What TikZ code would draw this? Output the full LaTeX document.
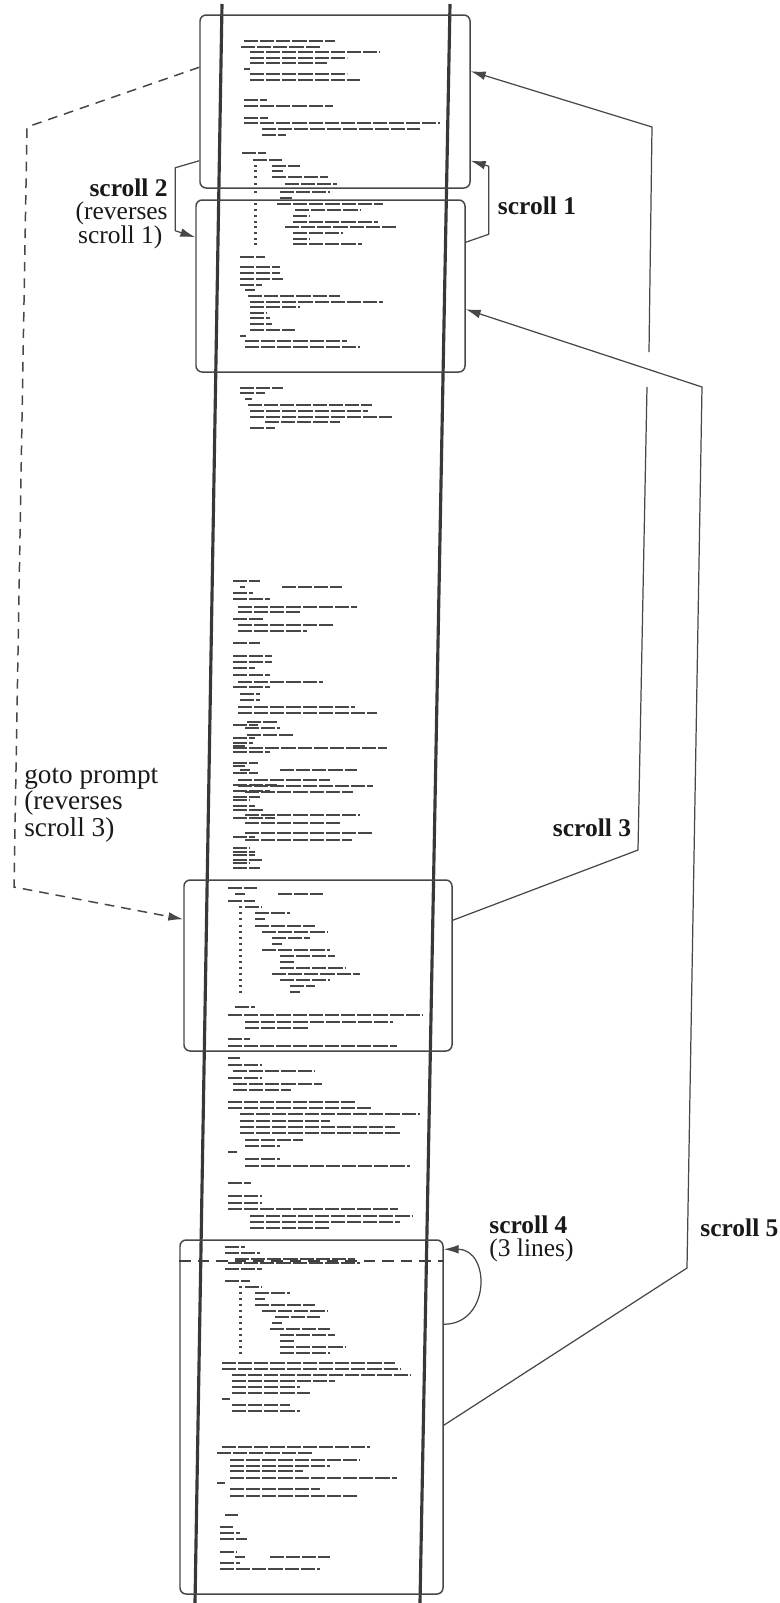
\documentclass[tikz,border=0pt]{standalone}
\usepackage{fontspec}
\setmainfont{Liberation Serif}
\usetikzlibrary{arrows.meta, calc, fit}

\newcommand{\textrows}[1]{%
  % #1 = list of x_start/x_end/y (one printed row each)
  \foreach \xa/\xb/\yy in {#1} {
    \draw[codebar] (\xa,\yy) -- (\xb,\yy);
  }
}

\tikzset{
  pageline/.style={black!78, line width=1.8pt},
  winbox/.style={draw=black!72, line width=0.85pt, rounded corners=3.5pt, inner sep=0pt},
  codebar/.style={black!72, line width=1.55pt, dash pattern=on 8pt off 1.2pt},
  scrollline/.style={black!72, line width=0.7pt, -{Latex[length=8.5pt,width=5pt]}},
  gotoline/.style={scrollline, line width=0.85pt, dash pattern=on 5.5pt off 4pt},
  cutline/.style={black!75, line width=1.1pt, dash pattern=on 6.5pt off 4pt},
  lbl/.style={font=\fontsize{14.5}{13}\selectfont, inner sep=0pt, text=black!90},
}

\begin{document}
\begin{tikzpicture}[x=0.02cm, y=-0.02cm]
  \useasboundingbox (0,0) rectangle (780,1603);

  % printed rows of the listing
  \textrows{244/335/41, 241/320/47, 250/380/52, 250/347/58, 250/327/63, 244/250/69,
    250/347/74, 250/360/80, 244/267/100, 244/333/106, 244/268/118, 244/440/123,
    262/420/129, 262/286/135, 242/266/153, 253/282/160, 254/257/166, 272/300/166,
    254/257/171, 272/283/171, 254/257/177, 272/328/177, 254/257/184, 285/337/184,
    254/257/192, 280/330/192}
  \textrows{280/292/198, 254/257/204, 277/383/204, 254/257/210, 295/360/210,
    254/257/216, 293/310/216, 254/257/222, 293/378/222, 254/257/227, 285/397/227,
    254/257/233, 293/343/233, 254/257/239, 293/310/239, 254/257/244, 293/362/244,
    240/265/257, 240/280/267, 240/280/273, 240/283/279, 240/262/285, 245/255/290,
    248/340/296, 250/383/302, 250/300/307, 250/267/313, 250/270/318, 250/272/324,
    250/295/330, 240/246/336, 245/347/341, 245/360/347}
  \textrows{240/283/388, 240/265/393, 245/252/399, 248/372/405, 250/368/411,
    250/392/417, 265/340/422, 250/275/428}
  \textrows{233/260/581, 240/245/587, 282/342/587, 233/253/593, 233/270/599,
    238/357/607, 238/300/612, 233/265/619, 238/333/625, 238/307/631, 233/260/643,
    233/272/656, 233/272/662, 233/255/668, 233/270/675, 238/323/682, 233/270/687,
    240/260/694, 240/260/700, 238/355/707, 238/377/713, 247/277/722, 233/258/725,
    245/280/728, 247/293/735, 233/255/738, 233/253/743, 233/245/746, 233/387/748,
    233/270/752, 233/258/763, 233/245/766, 240/250/770, 280/357/770, 233/258/773,
    238/330/780, 233/277/785, 238/373/786, 233/270/791, 245/353/792, 233/260/797,
    233/250/800, 233/255/806, 233/265/810, 245/360/815, 233/275/818, 245/340/823,
    245/372/833, 233/255/837, 245/352/840, 233/250/848, 233/255/852, 233/255/855,
    233/262/860, 233/250/863, 233/260/868}
  \textrows{228/257/888, 235/245/894, 278/323/894, 228/255/901, 239/242/907,
    245/262/907, 239/242/913, 255/290/913, 239/242/919, 255/265/919, 239/242/926,
    255/315/926, 239/242/932, 262/327/932, 239/242/938, 272/310/938, 239/242/944,
    272/282/944, 239/242/950, 262/330/950, 239/242/956, 280/335/956, 239/242/962,
    280/295/962, 239/242/968, 280/345/968, 239/242/974, 272/360/974, 239/242/980,
    280/330/980, 239/242/986, 290/315/986, 239/242/992, 290/300/992, 235/255/1007,
    228/423/1015, 245/393/1022, 245/308/1028, 228/250/1039, 228/397/1046}
  \textrows{228/240/1058, 228/262/1065, 233/314/1071, 228/262/1078, 233/322/1084,
    233/291/1090, 228/355/1102, 228/372/1108, 240/420/1114, 240/330/1121,
    240/395/1127, 240/400/1133, 245/303/1140, 245/280/1146, 228/237/1152,
    245/280/1159, 245/410/1166, 228/251/1183, 228/262/1196, 228/262/1203,
    228/398/1209, 250/412/1216, 250/400/1222, 250/330/1228}
  \textrows{225/245/1247, 225/260/1253, 235/355/1259, 228/360/1263, 225/262/1269,
    225/250/1281, 239/242/1287, 245/262/1287, 239/242/1293, 255/290/1293,
    239/242/1299, 255/265/1299, 239/242/1305, 255/315/1305, 239/242/1311,
    262/327/1311, 239/242/1317, 275/320/1317, 239/242/1323, 272/282/1323,
    239/242/1329, 270/330/1329, 239/242/1335, 280/335/1335, 239/242/1341,
    280/295/1341, 239/242/1347, 280/345/1347, 239/242/1353, 280/330/1353,
    222/395/1363, 222/400/1369, 232/410/1375, 232/335/1381, 232/300/1387,
    232/310/1393, 222/230/1399, 232/290/1405, 232/300/1411, 222/370/1447,
    217/313/1453, 230/360/1460, 230/330/1466, 230/303/1471, 230/397/1478,
    217/225/1483, 230/320/1489, 230/357/1496, 225/238/1515, 220/233/1527,
    220/240/1533, 220/247/1539, 220/237/1552, 235/245/1557, 270/330/1557,
    220/240/1563, 220/320/1569}

  % edges of the page
  \draw[pageline] (222,4) -- (195,1603);
  \draw[pageline] (450,4) -- (420,1603);

  % windows onto the page
  \node[winbox, fit={(200,15) (470,188)}] (win1) {};
  \node[winbox, fit={(196,200) (465,372)}] (win2) {};
  \node[winbox, fit={(184,880) (452,1051)}] (win3) {};
  \node[winbox, fit={(180,1240) (443,1594)}] (win4) {};

  % labels
  \node[lbl] (lbl1) at (537,206) {\textbf{scroll 1}};
  \node[lbl, anchor=east, align=right] (lbl2) at (168,214)
    {\textbf{scroll 2}\\(reverses\hspace*{11pt}\\scroll 1)\hspace*{3pt}};
  \node[lbl] (lbl3) at (592,828) {\textbf{scroll 3}};
  \node[lbl, anchor=west, align=left, font=\fontsize{15.5}{13.2}\selectfont] (lblgoto)
    at (24,805) {goto prompt\\(reverses\\scroll 3)};
  \node[lbl, anchor=west, align=left] (lbl4) at (489,1239)
    {\textbf{scroll 4}\\(3 lines)};
  \node[lbl, anchor=west] (lbl5) at (700,1228) {\textbf{scroll 5}};

  % scroll 1 and scroll 2
  \draw[scrollline] ($(win2.north east)+(0,43)$) -- ++(23,-8) -- ++(0,-68)
    -- ($(win1.south east)+(0,-28)$);
  \draw[scrollline] ($(win1.south west)+(0,-28)$) -- ++(-24,7) -- ++(0,63)
    -- ($(win2.north west)+(0,38)$);

  % scroll 3 (broken where scroll 5 passes)
  \draw[scrollline] ($(win3.north east)+(0,41)$) -- (638,850) -- (647,387)
    ++(2,-35) -- (652,127) -- ($(win1.north east)+(0,57)$);

  % scroll 5
  \draw[scrollline] ($(win4.north east)+(0,186)$) -- (687,1268) -- (702,387)
    -- ($(win2.north east)+(0,110)$);

  % goto prompt
  \draw[gotoline] ($(win1.north west)+(0,53)$) -- (27,127) -- (14,887)
    -- ($(win3.north west)+(0,40)$);

  % scroll 4
  \draw[cutline] ($(win4.north west)+(0,22)$) -- ($(win4.north east)+(0,22)$);
  \draw[scrollline] ($(win4.north east)+(0,85)$) .. controls +(47,0) and +(47,0)
    .. ($(win4.north east)+(0,10)$);
\end{tikzpicture}
\end{document}
